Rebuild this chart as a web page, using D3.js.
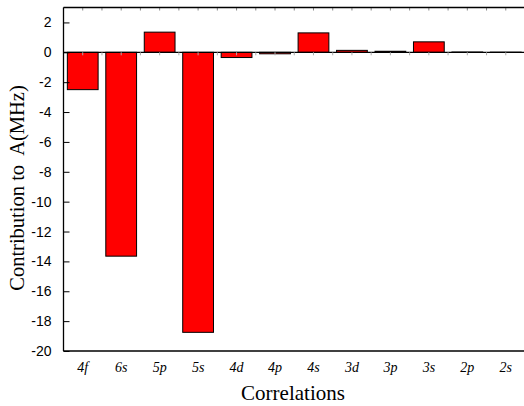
<!DOCTYPE html>
<html><head><meta charset="utf-8">
<script src="https://cdn.jsdelivr.net/npm/d3@7"></script>
<style>body{margin:0;background:#fff}svg{display:block}</style>
</head><body>
<script>
const categories = ["4f","6s","5p","5s","4d","4p","4s","3d","3p","3s","2p","2s"];
const values = [-2.5,-13.65,1.35,-18.75,-0.35,-0.1,1.3,0.13,0.07,0.7,0.02,0.01];
const yTicks = [-20,-18,-16,-14,-12,-10,-8,-6,-4,-2,0,2];

const W=524,H=406;
const svg=d3.select("body").append("svg").attr("width",W).attr("height",H);
const L=63.5,R=525,T=7.5,B=351;
const x=d3.scaleBand().domain(categories).range([L,R]).paddingInner(0.2).paddingOuter(0.1);
const y=d3.scaleLinear().domain([-20,3]).range([B,T]);

// bars
svg.append("g").selectAll("rect").data(values).join("rect")
  .attr("x",(d,i)=>x(categories[i]))
  .attr("width",x.bandwidth())
  .attr("y",d=>y(Math.max(0,d)))
  .attr("height",d=>Math.abs(y(d)-y(0)))
  .attr("fill","#ff0000").attr("stroke","#000").attr("stroke-width",1);

// zero line
svg.append("line").attr("x1",L).attr("x2",W).attr("y1",y(0)).attr("y2",y(0)).attr("stroke","#000").attr("stroke-width",1.2);

// minor ticks on top and zero line
const step=x.step();
const half=[];
for(let k=0;k<=categories.length*2;k++) half.push(L+k*step/2);
svg.append("g").selectAll("line").data(half).join("line")
  .attr("x1",d=>d).attr("x2",d=>d).attr("y1",T).attr("y2",T+3).attr("stroke","#888");
svg.append("g").selectAll("line").data(half).join("line")
  .attr("x1",d=>d).attr("x2",d=>d).attr("y1",y(0)).attr("y2",y(0)+3).attr("stroke","#aaa");

// frame: left, top, bottom
svg.append("line").attr("x1",L).attr("x2",W).attr("y1",T).attr("y2",T).attr("stroke","#000").attr("stroke-width",1.3);
svg.append("line").attr("x1",L).attr("x2",W).attr("y1",B).attr("y2",B).attr("stroke","#000").attr("stroke-width",1.3);

// y axis
const yAxis=d3.axisLeft(y).tickValues(yTicks).tickSizeInner(-6).tickSizeOuter(0).tickPadding(12).tickFormat(d3.format("d"));
const ga=svg.append("g").attr("transform",`translate(${L},0)`).call(yAxis);
ga.select(".domain").attr("stroke","#000").attr("stroke-width",1.3).attr("d",`M0,${T}V${B}`);
ga.selectAll(".tick line").attr("stroke","#000");
ga.selectAll("text").attr("font-family","'Liberation Sans', Arial, sans-serif").attr("font-size",14).attr("fill","#000").text(d=>d<0?"-"+Math.abs(d):d);

// x labels
const xa=d3.axisBottom(x).tickSize(0).tickPadding(0);
const gx=svg.append("g").attr("transform",`translate(0,${B})`).call(xa);
gx.select(".domain").remove();
gx.selectAll("text").attr("font-family","'Liberation Serif', 'Times New Roman', serif").attr("font-style","italic").attr("font-size",14).attr("fill","#000").attr("dy",null).attr("y",21);

// titles
svg.append("text").attr("x",293).attr("y",400).attr("text-anchor","middle")
  .attr("font-family","'Liberation Serif', 'Times New Roman', serif").attr("font-size",21).text("Correlations");
svg.append("text").attr("transform","translate(24,188) rotate(-90)").attr("text-anchor","middle")
  .attr("font-family","'Liberation Serif', 'Times New Roman', serif").attr("font-size",20.5).attr("xml:space","preserve").style("white-space","pre").text("Contribution to  A(MHz)");
</script>
</body></html>
